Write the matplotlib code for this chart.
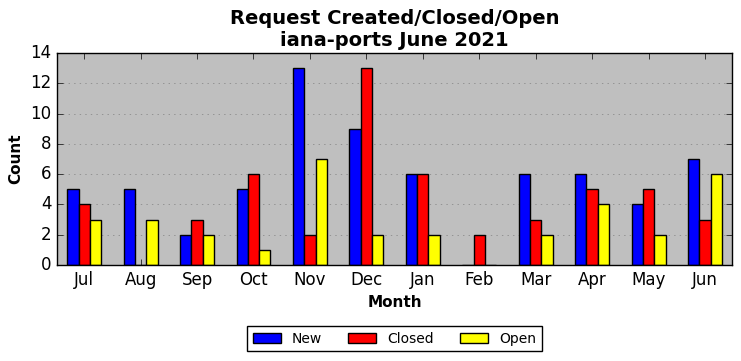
import matplotlib
matplotlib.use("Agg")
import matplotlib.pyplot as plt
import numpy as np

months = ["Jul", "Aug", "Sep", "Oct", "Nov", "Dec", "Jan", "Feb", "Mar", "Apr", "May", "Jun"]
new = [5, 5, 2, 5, 13, 9, 6, 0, 6, 6, 4, 7]
closed = [4, 0, 3, 6, 2, 13, 6, 2, 3, 5, 5, 3]
opened = [3, 3, 2, 1, 7, 2, 2, 0, 2, 4, 2, 6]

plt.style.use("classic")

fig = plt.figure(figsize=(7.41, 3.61), dpi=100)
fig.patch.set_facecolor("white")
ax = fig.add_axes([0.077, 0.266, 0.911, 0.587])
ax.set_facecolor("#bfbfbf")

x = np.arange(len(months))
w = 0.2
ax.bar(x - w, new, w, color="blue", edgecolor="black", label="New", align="center")
ax.bar(x, closed, w, color="red", edgecolor="black", label="Closed", align="center")
ax.bar(x + w, opened, w, color="yellow", edgecolor="black", label="Open", align="center")

ax.set_xticks(x)
ax.set_xticklabels(months, fontsize=12)
ax.set_xlim(-0.48, 11.48)
ax.set_ylim(0, 14)
ax.set_yticks(range(0, 15, 2))
ax.tick_params(axis="y", labelsize=12)
ax.yaxis.grid(True, linestyle=":", color="gray")
ax.set_axisbelow(True)

ax.set_title("Request Created/Closed/Open\niana-ports June 2021", fontsize=14, fontweight="bold")
ax.set_ylabel("Count", fontsize=11, fontweight="bold")
ax.set_xlabel("Month", fontsize=11, fontweight="bold")

ax.legend(loc="upper center", bbox_to_anchor=(0.5, -0.255), ncol=3, fontsize=10,
          handlelength=2.0, columnspacing=1.9, handletextpad=0.8, fancybox=False)

fig.savefig("out.png", dpi=100, facecolor="white")
